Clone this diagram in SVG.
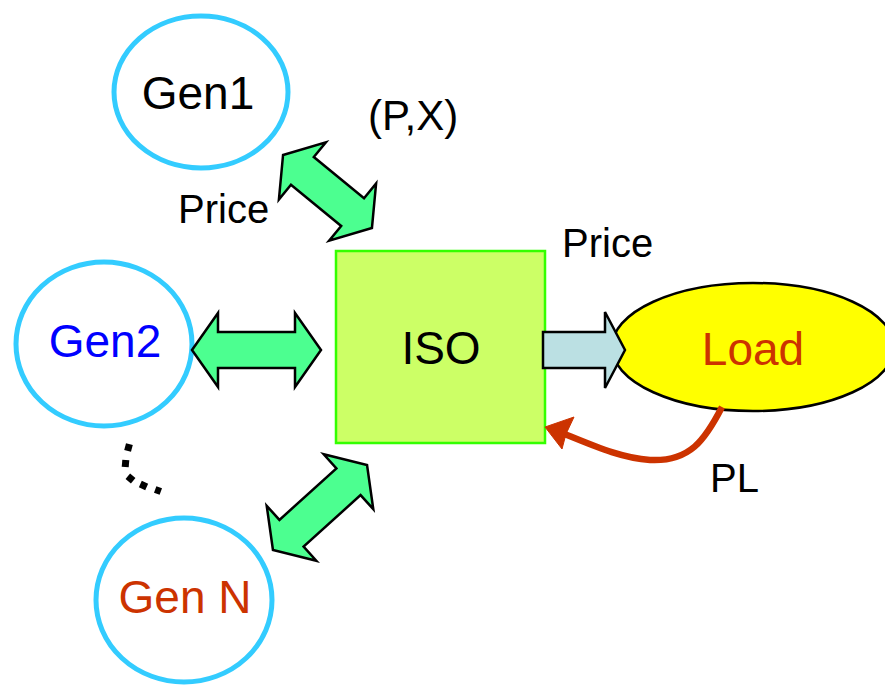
<svg xmlns="http://www.w3.org/2000/svg" width="885" height="685" viewBox="0 0 885 685">
<style>
text{font-family:"Liberation Sans",Arial,sans-serif;}
.gen{fill:#fff;stroke:#33CCFF;stroke-width:5;}
.lbl{font-size:46px;text-anchor:middle;}
.sm{font-size:40px;fill:#000;}
.dbl{fill:#4CFF90;stroke:#000;stroke-width:2.5;stroke-linejoin:miter;}
</style>
<rect width="885" height="685" fill="#fff"/>
<g id="gen1">
<ellipse class="gen" cx="201" cy="92" rx="87" ry="76"/>
<text class="lbl" x="198" y="109" fill="#000">Gen1</text>
</g>
<g id="gen2">
<ellipse class="gen" cx="104" cy="344" rx="88" ry="82"/>
<text class="lbl" x="105" y="357" fill="#0000FF">Gen2</text>
</g>
<g id="genN">
<ellipse class="gen" cx="184" cy="600" rx="88" ry="82"/>
<text class="lbl" x="185" y="613" fill="#CC3300">Gen N</text>
</g>
<g id="iso">
<rect x="336" y="251" width="209" height="192" fill="#CCFF66" stroke="#33FF00" stroke-width="2.5"/>
<text class="lbl" x="441" y="364" fill="#000">ISO</text>
</g>
<g id="load">
<ellipse cx="753" cy="347" rx="141" ry="64" fill="#FFFF00" stroke="#000" stroke-width="2.5"/>
<text class="lbl" x="753" y="365" fill="#CC3300">Load</text>
</g>
<g id="connectors">
<path class="dbl" transform="translate(327.5,191.5) rotate(39.4)" d="M-57.5,0 L-32.5,-37 L-32.5,-18 L32.5,-18 L32.5,-37 L57.5,0 L32.5,37 L32.5,18 L-32.5,18 L-32.5,37 Z"/>
<path class="dbl" transform="translate(256.5,350)" d="M-64.5,0 L-38.5,-37 L-38.5,-18 L38.5,-18 L38.5,-37 L64.5,0 L38.5,37 L38.5,18 L-38.5,18 L-38.5,37 Z"/>
<path class="dbl" transform="translate(320,507.5) rotate(-42.1)" d="M-63.4,0 L-38.4,-37 L-38.4,-18 L38.4,-18 L38.4,-37 L63.4,0 L38.4,37 L38.4,18 L-38.4,18 L-38.4,37 Z"/>
<path d="M543,332 L605,332 L605,312 L625,350 L605,388 L605,368 L543,368 Z" fill="#BBE0E3" stroke="#000" stroke-width="2.5"/>
<path d="M722,407 C705,440 690,462 650,460 C620,458 592,445 562,433" fill="none" stroke="#CC3300" stroke-width="6.5"/>
<path d="M545,427 L574,417 L566,434 L562,449 Z" fill="#CC3300" stroke="#CC3300" stroke-width="1"/>
<g fill="#000">
<rect x="125" y="444" width="7" height="7" transform="rotate(15 128.5 447.5)"/>
<rect x="122" y="460" width="7" height="7" transform="rotate(5 125.5 463.5)"/>
<rect x="127" y="475" width="7" height="7" transform="rotate(40 130.5 478.5)"/>
<rect x="140" y="482" width="7" height="7" transform="rotate(25 143.5 485.5)"/>
<rect x="155" y="487" width="6" height="7" transform="rotate(20 158 490.5)"/>
</g>
</g>
<text class="sm" x="368" y="130" style="font-size:42px">(P,X)</text>
<text class="sm" x="178" y="223">Price</text>
<text class="sm" x="562" y="257">Price</text>
<text class="sm" x="710" y="492">PL</text>
</svg>
